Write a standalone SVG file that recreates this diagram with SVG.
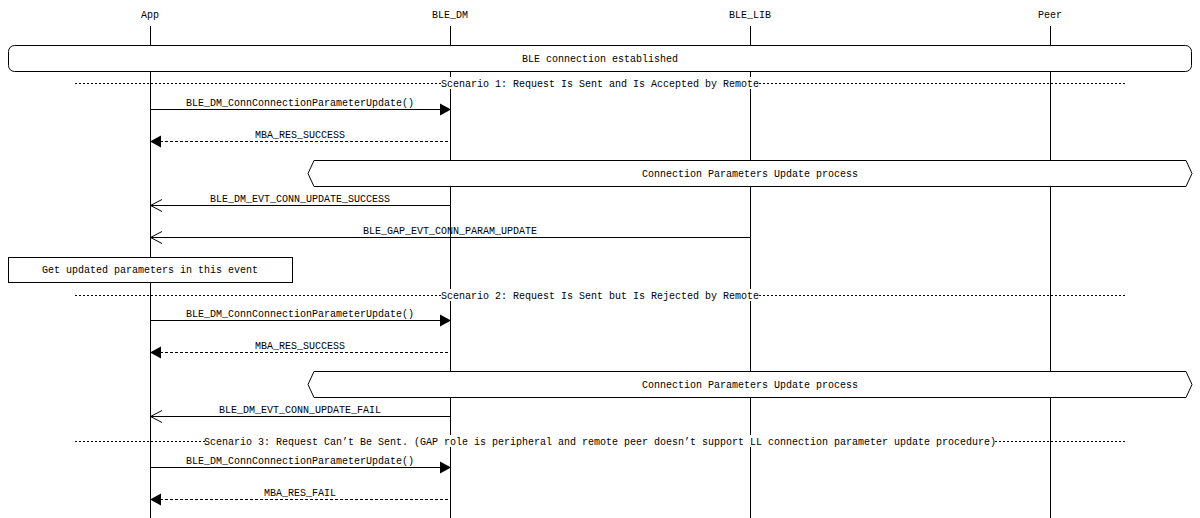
<svg xmlns="http://www.w3.org/2000/svg" width="1200" height="518" viewBox="0 0 1200 518">
<style>
text{font-family:"Liberation Mono","DejaVu Sans Mono",monospace;font-size:10px;fill:#000;text-anchor:middle}
.life{stroke:#000;stroke-width:1}
.box{fill:#fff;stroke:#000;stroke-width:1}
.div{stroke:#000;stroke-width:1;stroke-dasharray:2,2}
.msg{stroke:#000;stroke-width:1;fill:none}
.ret{stroke:#000;stroke-width:1;fill:none;stroke-dasharray:3,2}
.fill{fill:#000;stroke:none}
.open{fill:none;stroke:#000;stroke-width:1}
.bg{fill:#fff}
</style>
<rect width="1200" height="518" fill="#fff"/>
<g id="lifelines">
<g id="App"><text x="150" y="18">App</text><line class="life" x1="150.5" y1="26" x2="150.5" y2="518"/></g>
<g id="BLE_DM"><text x="450" y="18">BLE_DM</text><line class="life" x1="450.5" y1="26" x2="450.5" y2="518"/></g>
<g id="BLE_LIB"><text x="750" y="18">BLE_LIB</text><line class="life" x1="750.5" y1="26" x2="750.5" y2="518"/></g>
<g id="Peer"><text x="1050" y="18">Peer</text><line class="life" x1="1050.5" y1="26" x2="1050.5" y2="518"/></g>
</g>
<g id="box-connected">
<rect class="box" x="8.5" y="45.5" width="1183" height="26" rx="6" ry="6"/>
<text x="600" y="62">BLE connection established</text>
</g>
<g id="dividers">
<line class="div" x1="75" y1="83.5" x2="1125" y2="83.5"/>
<rect class="bg" x="441" y="77" width="318" height="12"/>
<text x="600" y="87">Scenario 1: Request Is Sent and Is Accepted by Remote</text>
<line class="div" x1="75" y1="295.5" x2="1125" y2="295.5"/>
<rect class="bg" x="441" y="289" width="318" height="12"/>
<text x="600" y="299">Scenario 2: Request Is Sent but Is Rejected by Remote</text>
<line class="div" x1="75" y1="441.5" x2="1125" y2="441.5"/>
<rect class="bg" x="207" y="435" width="786" height="12"/>
<text x="600" y="445">Scenario 3: Request Can’t Be Sent. (GAP role is peripheral and remote peer doesn’t support LL connection parameter update procedure)</text>
</g>
<g id="process1">
<polygon class="box" points="308,173.5 314,160.5 1186,160.5 1192,173.5 1186,186.5 314,186.5"/>
<text x="750" y="177">Connection Parameters Update process</text>
</g>
<g id="note-params">
<rect class="box" x="8.5" y="257.5" width="284" height="25"/>
<text x="150" y="273">Get updated parameters in this event</text>
</g>
<g id="process2">
<polygon class="box" points="308,384.5 314,371.5 1186,371.5 1192,384.5 1186,397.5 314,397.5"/>
<text x="750" y="388">Connection Parameters Update process</text>
</g>
<g id="connectors">
<line class="msg" x1="150" y1="109.5" x2="440" y2="109.5"/>
<polygon class="fill" points="451,109.5 440,103.5 440,115.5"/>
<text x="300" y="106">BLE_DM_ConnConnectionParameterUpdate()</text>

<line class="ret" x1="448" y1="141.5" x2="161" y2="141.5"/>
<polygon class="fill" points="150,141.5 161,135.5 161,147.5"/>
<text x="300" y="138">MBA_RES_SUCCESS</text>

<line class="msg" x1="450" y1="205.5" x2="150" y2="205.5"/>
<polyline class="open" points="162,199.5 150.5,205.5 162,211.5"/>
<text x="300" y="202">BLE_DM_EVT_CONN_UPDATE_SUCCESS</text>

<line class="msg" x1="750" y1="237.5" x2="150" y2="237.5"/>
<polyline class="open" points="162,231.5 150.5,237.5 162,243.5"/>
<text x="450" y="234">BLE_GAP_EVT_CONN_PARAM_UPDATE</text>

<line class="msg" x1="150" y1="320.5" x2="440" y2="320.5"/>
<polygon class="fill" points="451,320.5 440,314.5 440,326.5"/>
<text x="300" y="317">BLE_DM_ConnConnectionParameterUpdate()</text>

<line class="ret" x1="448" y1="352.5" x2="161" y2="352.5"/>
<polygon class="fill" points="150,352.5 161,346.5 161,358.5"/>
<text x="300" y="349">MBA_RES_SUCCESS</text>

<line class="msg" x1="450" y1="416.5" x2="150" y2="416.5"/>
<polyline class="open" points="162,410.5 150.5,416.5 162,422.5"/>
<text x="300" y="413">BLE_DM_EVT_CONN_UPDATE_FAIL</text>

<line class="msg" x1="150" y1="467.5" x2="440" y2="467.5"/>
<polygon class="fill" points="451,467.5 440,461.5 440,473.5"/>
<text x="300" y="464">BLE_DM_ConnConnectionParameterUpdate()</text>

<line class="ret" x1="448" y1="499.5" x2="161" y2="499.5"/>
<polygon class="fill" points="150,499.5 161,493.5 161,505.5"/>
<text x="300" y="496">MBA_RES_FAIL</text>
</g>
</svg>
